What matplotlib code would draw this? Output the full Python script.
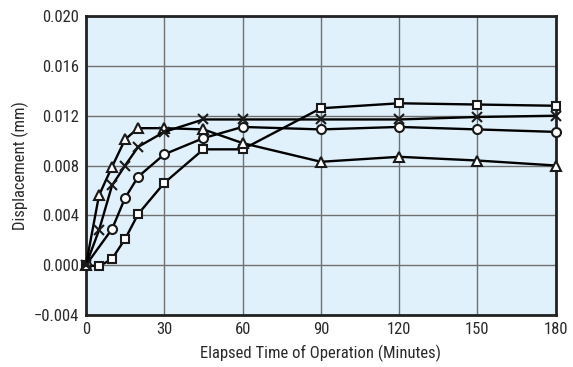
import matplotlib
matplotlib.use("Agg")
import matplotlib.pyplot as plt

plt.rcParams["font.family"] = ["Roboto Condensed", "DejaVu Sans"]
plt.rcParams["axes.unicode_minus"] = True

# Elapsed time (minutes) and displacement (mm) for each series
t_tri = [0, 5, 10, 15, 20, 30, 45, 60, 90, 120, 150, 180]
d_tri = [0.0, 0.0056, 0.0079, 0.0101, 0.0110, 0.0110, 0.0109, 0.0098,
         0.0083, 0.0087, 0.0084, 0.0080]

t_x = [0, 5, 10, 15, 20, 30, 45, 60, 90, 120, 150, 180]
d_x = [0.0, 0.0028, 0.0064, 0.0080, 0.0095, 0.0107, 0.0117, 0.0117,
       0.0117, 0.0117, 0.0119, 0.0120]

t_circ = [0, 10, 15, 20, 30, 45, 60, 90, 120, 150, 180]
d_circ = [0.0, 0.0029, 0.0054, 0.0071, 0.0089, 0.0102, 0.0111,
          0.0109, 0.0111, 0.0109, 0.0107]

t_sq = [0, 5, 10, 15, 20, 30, 45, 60, 90, 120, 150, 180]
d_sq = [0.0, -0.0001, 0.0005, 0.0021, 0.0041, 0.0066, 0.0093, 0.0093,
        0.0126, 0.0130, 0.0129, 0.0128]

x_ticks = [0, 30, 60, 90, 120, 150, 180]
y_ticks = [-0.004, 0.0, 0.004, 0.008, 0.012, 0.016, 0.020]

fig = plt.figure(figsize=(5.73, 3.67), dpi=100)
ax = fig.add_axes([0.150, 0.142, 0.820, 0.814])
ax.set_facecolor("#e0f1fb")

style = dict(color="black", linewidth=1.7, markerfacecolor="white",
             markeredgecolor="#1a1a1a", markeredgewidth=1.5, clip_on=False)

ax.plot(t_sq, d_sq, marker="s", markersize=6, zorder=3, **style)
ax.plot(t_circ, d_circ, marker="o", markersize=6.5, zorder=3, **style)
ax.plot(t_tri, d_tri, marker="^", markersize=6.5, zorder=3, **style)
ax.plot(t_x, d_x, marker="x", markersize=7.5, zorder=3,
        color="black", linewidth=1.7, markeredgewidth=1.5, markeredgecolor="#1a1a1a",
        clip_on=False)

ax.set_xlim(0, 180)
ax.set_ylim(-0.004, 0.020)
ax.set_xticks(x_ticks)
ax.set_yticks(y_ticks)
ax.set_yticklabels([f"{v:.3f}".replace("-", "\u2212") for v in y_ticks])

ax.grid(True, color="#707070", linewidth=1.0)
ax.set_axisbelow(True)
for s in ax.spines.values():
    s.set_linewidth(2.0)
    s.set_color("#222222")
ax.tick_params(length=0, labelsize=12, pad=5, colors="#2a2a2a")

ax.set_xlabel("Elapsed Time of Operation (Minutes)", fontsize=12, color="#2a2a2a", labelpad=6)
ax.set_ylabel("Displacement (mm)", fontsize=12, color="#2a2a2a", labelpad=3)

fig.savefig("out.png", dpi=100)
